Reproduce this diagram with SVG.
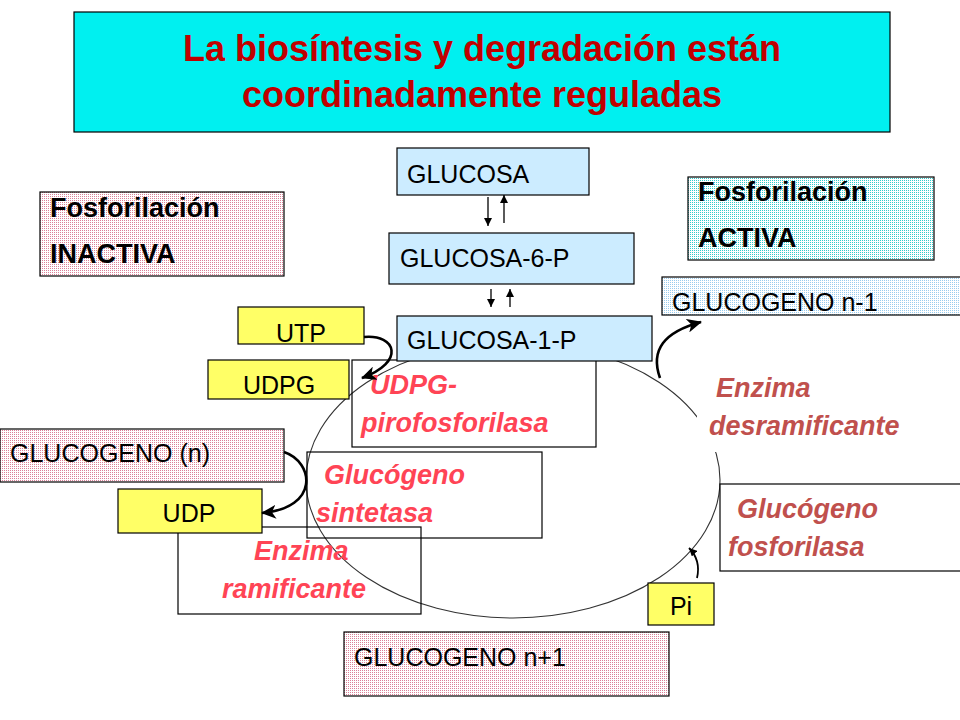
<svg xmlns="http://www.w3.org/2000/svg" width="960" height="720" viewBox="0 0 960 720">
<defs>
<style>
.box{stroke:#000;stroke-width:1.2}
.blue{fill:#CCECFF}
.yel{fill:#FFFF66}
.enz{fill:none}
.t{font-family:"Liberation Sans",Arial,sans-serif;font-size:25px;fill:#000}
.b{font-family:"Liberation Sans",Arial,sans-serif;font-size:27px;font-weight:bold;fill:#000}
.r{font-family:"Liberation Sans",Arial,sans-serif;font-size:27px;font-weight:bold;font-style:italic;fill:#FF4455}
.r2{font-family:"Liberation Sans",Arial,sans-serif;font-size:27px;font-weight:bold;font-style:italic;fill:#C0504D}
.title{font-family:"Liberation Sans",Arial,sans-serif;font-size:36px;font-weight:bold;fill:#C00000;text-anchor:middle}
.c{text-anchor:middle}
.thick{fill:none;stroke:#000;stroke-width:2.6}
.thin{fill:none;stroke:#000;stroke-width:1.3}
</style>
<pattern id="pink" width="2" height="2" patternUnits="userSpaceOnUse">
<rect width="2" height="2" fill="#FFFFFF"/><rect width="1" height="1" fill="#DC8098"/>
</pattern>
<pattern id="cyan" width="2" height="2" patternUnits="userSpaceOnUse">
<rect width="2" height="2" fill="#FFFFFF"/><rect width="1" height="1" fill="#33CCCC"/>
</pattern>
<pattern id="lblue" width="2" height="2" patternUnits="userSpaceOnUse">
<rect width="2" height="2" fill="#FFFFFF"/><rect width="1" height="1" fill="#99CCEE"/>
</pattern>
<marker id="big" markerUnits="userSpaceOnUse" markerWidth="16" markerHeight="14" refX="14" refY="7" orient="auto">
<path d="M0,0 L15,7 L0,14 L4,7 Z" fill="#000"/>
</marker>
<marker id="small" markerUnits="userSpaceOnUse" markerWidth="9" markerHeight="8" refX="8" refY="4" orient="auto">
<path d="M0,0 L8,4 L0,8 Z" fill="#000"/>
</marker>
</defs>
<rect width="960" height="720" fill="#FFFFFF"/>

<g id="title">
<rect class="box" x="74" y="12" width="816" height="120" fill="#00F0F0"/>
<text class="title" x="482" y="61">La biosíntesis y degradación están</text>
<text class="title" x="482" y="107">coordinadamente reguladas</text>
</g>

<g id="cycle">
<ellipse cx="513" cy="480" rx="207" ry="138" fill="none" stroke="#333" stroke-width="1.1"/>
<rect x="697" y="380" width="220" height="72" fill="#FFFFFF"/>
</g>

<g id="inactiva">
<rect class="box" x="40" y="192" width="244" height="84" fill="url(#pink)"/>
<text class="b" x="50" y="217">Fosforilación</text>
<text class="b" x="50" y="263">INACTIVA</text>
</g>

<g id="activa">
<rect class="box" x="688" y="177" width="246" height="83" fill="url(#cyan)"/>
<text class="b" x="698" y="201">Fosforilación</text>
<text class="b" x="698" y="247">ACTIVA</text>
</g>

<g id="glucosa">
<rect class="box blue" x="397" y="148" width="192" height="47"/>
<text class="t" x="407" y="183">GLUCOSA</text>
</g>
<g id="glucosa6p">
<rect class="box blue" x="389" y="233" width="245" height="51"/>
<text class="t" x="400" y="267">GLUCOSA-6-P</text>
</g>

<g id="glucogeno-n-1">
<rect class="box" x="662" y="277" width="300" height="38" fill="url(#lblue)"/>
<text class="t" x="672" y="311">GLUCOGENO n-1</text>
</g>

<g id="udpg-pirofosforilasa">
<rect class="box enz" x="352" y="360" width="244" height="87"/>
<text class="r" x="370" y="394">UDPG-</text>
<text class="r" x="361" y="432">pirofosforilasa</text>
</g>

<g id="glucogeno-sintetasa">
<rect class="box enz" x="307" y="452" width="235" height="86"/>
<text class="r" x="324" y="484">Glucógeno</text>
<text class="r" x="316" y="522">sintetasa</text>
</g>

<g id="enzima-ramificante">
<rect class="box enz" x="178" y="527" width="243" height="87"/>
<text class="r" x="254" y="560">Enzima</text>
<text class="r" x="222" y="598">ramificante</text>
</g>

<g id="glucogeno-fosforilasa">
<rect class="box" x="720" y="484" width="242" height="87" fill="#FFFFFF"/>
<text class="r2" x="737" y="518">Glucógeno</text>
<text class="r2" x="728" y="556">fosforilasa</text>
</g>

<g id="enzima-desramificante">
<text class="r2" x="716" y="397">Enzima</text>
<text class="r2" x="709" y="435">desramificante</text>
</g>

<g id="glucosa1p">
<rect class="box blue" x="397" y="316" width="255" height="45"/>
<text class="t" x="407" y="349">GLUCOSA-1-P</text>
</g>

<g id="utp">
<rect class="box yel" x="238" y="307" width="126" height="37"/>
<text class="t c" x="301" y="342">UTP</text>
</g>
<g id="udpg">
<rect class="box yel" x="208" y="360" width="141" height="39"/>
<text class="t c" x="279" y="394">UDPG</text>
</g>

<g id="glucogeno-n">
<rect class="box" x="0" y="429" width="284" height="53" fill="url(#pink)"/>
<text class="t" x="10" y="462">GLUCOGENO (n)</text>
</g>

<g id="udp">
<rect class="box yel" x="118" y="489" width="144" height="44"/>
<text class="t c" x="189" y="522">UDP</text>
</g>

<g id="glucogeno-n1">
<rect class="box" x="344" y="632" width="325" height="64" fill="url(#pink)"/>
<text class="t" x="354" y="666">GLUCOGENO n+1</text>
</g>

<g id="pi">
<rect class="box yel" x="648" y="583" width="66" height="42"/>
<text class="t c" x="681" y="615">Pi</text>
</g>

<g id="connectors">
<line class="thin" x1="488" y1="197" x2="488" y2="226" marker-end="url(#small)"/>
<line class="thin" x1="504" y1="223" x2="504" y2="195" marker-end="url(#small)"/>
<line class="thin" x1="491" y1="289" x2="491" y2="307" marker-end="url(#small)"/>
<line class="thin" x1="510" y1="307" x2="510" y2="289" marker-end="url(#small)"/>
<path class="thick" d="M364,337 C396,334 406,362 362,378" marker-end="url(#big)"/>
<path class="thick" d="M284,452 C314,462 320,508 262,513" marker-end="url(#big)"/>
<path class="thick" d="M660,378 C650,350 664,332 701,322" marker-end="url(#big)"/>
<path class="thick" style="stroke-width:1.8" d="M697,578 C700,565 697,556 689,548" marker-end="url(#small)"/>
</g>
</svg>
